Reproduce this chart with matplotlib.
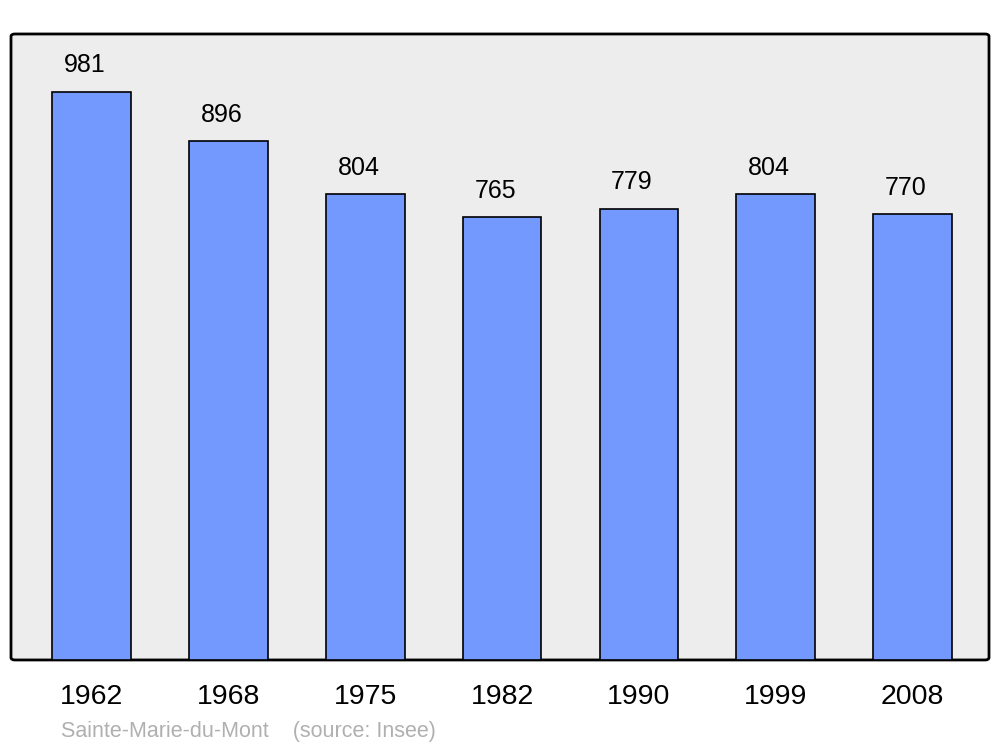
import matplotlib.pyplot as plt
from matplotlib.patches import FancyBboxPatch

years = ["1962", "1968", "1975", "1982", "1990", "1999", "2008"]
population = [981, 896, 804, 765, 779, 804, 770]
commune = "Sainte-Marie-du-Mont"
source = "(source: Insee)"

fig = plt.figure(figsize=(10, 7.47), dpi=100)
ax = fig.add_axes([0.011, 0.1165, 0.978, 0.838])
ax.set_facecolor("none")

# rounded background box
frame = FancyBboxPatch((0, 0), 1, 1, boxstyle="round,pad=0,rounding_size=0.004",
                       transform=ax.transAxes, facecolor="#ededed",
                       edgecolor="black", linewidth=2, zorder=0, clip_on=False)
ax.add_patch(frame)

x = list(range(len(years)))
ax.bar(x, population, width=0.575, color="#7399ff", edgecolor="black",
       linewidth=1.2, zorder=2)

for xi, v in zip(x, population):
    ax.text(xi - 0.05, v + 25, str(v), ha="center", va="bottom",
            fontsize=18, family="Liberation Sans")

ax.set_xlim(-0.59, 6.56)
ax.set_ylim(0, 1081)
ax.set_xticks(x)
ax.set_xticklabels(years, fontsize=20.5, family="Liberation Sans")
ax.tick_params(axis="x", length=0, pad=17.5)
ax.set_yticks([])
for s in ax.spines.values():
    s.set_visible(False)

fig.text(0.061, 0.013, commune + "    " + source, fontsize=15.5,
         color="#b0b0b0", family="Liberation Sans")

fig.savefig("out.png", dpi=100)
